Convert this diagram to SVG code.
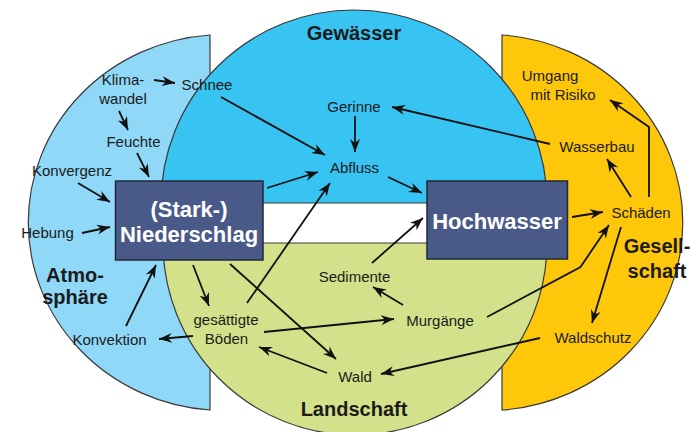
<svg xmlns="http://www.w3.org/2000/svg" width="699" height="432" viewBox="0 0 699 432">
<style>
.t{font-family:"Liberation Sans",Arial,sans-serif;font-size:15px;fill:#1b1b1b;text-anchor:middle}
.h{font-family:"Liberation Sans",Arial,sans-serif;font-size:20px;font-weight:bold;fill:#1b1b1b;text-anchor:middle}
.b{font-family:"Liberation Sans",Arial,sans-serif;font-size:22px;font-weight:bold;fill:#ffffff;text-anchor:middle}
.box{fill:#4a5a88;stroke:#1e2838;stroke-width:1.5}
.area{stroke:#3a3a3a;stroke-width:1.2}
#connectors line,#connectors polyline{stroke:#111;stroke-width:1.8;fill:none;marker-end:url(#ah)}
</style>
<defs>
<marker id="ah" markerWidth="15" markerHeight="11" viewBox="-14 -5.5 15 11" refX="0" refY="0" orient="auto" markerUnits="userSpaceOnUse">
<path d="M0,0 L-13,-5 L-9,0 L-13,5 Z" fill="#111"/>
</marker>
</defs>
<rect width="699" height="432" fill="#ffffff"/>
<g id="atmosphaere">
<path class="area" d="M210,35 A196,188 0 0 0 210,410 Z" fill="#8fd8f7"/>
</g>
<g id="gesellschaft">
<path class="area" d="M502,35 A195,188 0 0 1 502,410 Z" fill="#ffc709"/>
</g>
<g id="gewaesser">
<path class="area" d="M161,203 A193,193 0 0 1 547,203 Z" fill="#38c4f2"/>
</g>
<g id="landschaft">
<path class="area" d="M163,243 A192,192 0 0 0 547,243 Z" fill="#d3e18a"/>
</g>
<g id="connectors">
<line x1="154" y1="80" x2="175" y2="83"/>
<line x1="119" y1="111" x2="128" y2="130"/>
<line x1="137" y1="153" x2="149" y2="177"/>
<line x1="78" y1="183" x2="110" y2="202"/>
<line x1="82" y1="233" x2="110" y2="227"/>
<line x1="126" y1="326" x2="156" y2="265"/>
<line x1="193" y1="336" x2="159" y2="339"/>
<line x1="193" y1="265" x2="209" y2="306"/>
<line x1="247" y1="303" x2="330" y2="183"/>
<line x1="230" y1="264" x2="336" y2="359"/>
<line x1="327" y1="373" x2="259" y2="347"/>
<line x1="264" y1="332" x2="394" y2="319"/>
<line x1="403" y1="305" x2="373" y2="287"/>
<line x1="372" y1="263" x2="423" y2="218"/>
<polyline points="487,317 580.5,267 609,225"/>
<line x1="621" y1="227" x2="592" y2="323"/>
<line x1="540" y1="338" x2="381" y2="374"/>
<line x1="572" y1="217" x2="603" y2="212"/>
<line x1="631" y1="197" x2="607" y2="159"/>
<polyline points="649,197 649,127 610,100"/>
<line x1="550" y1="144" x2="392" y2="107"/>
<line x1="355" y1="116" x2="355" y2="152"/>
<line x1="221" y1="97" x2="325" y2="155"/>
<line x1="267" y1="188" x2="318" y2="172"/>
<line x1="388" y1="177" x2="422" y2="193"/>
</g>
<g id="niederschlag">
<rect class="box" x="115.5" y="181" width="147.5" height="79"/>
<text class="b" x="189" y="217">(Stark-)</text>
<text class="b" x="189" y="242">Niederschlag</text>
</g>
<g id="hochwasser">
<rect class="box" x="427" y="181" width="140.5" height="78"/>
<text class="b" x="497" y="229">Hochwasser</text>
</g>
<g id="labels">
<text class="h" x="354" y="40">Gewässer</text>
<text class="h" x="75" y="282">Atmo-</text>
<text class="h" x="75" y="304">sphäre</text>
<text class="h" x="354" y="416">Landschaft</text>
<text class="h" x="657" y="253">Gesell-</text>
<text class="h" x="657" y="278">schaft</text>
</g>
<g id="klimawandel"><text class="t" x="123" y="85">Klima-</text><text class="t" x="123" y="104">wandel</text></g>
<g id="schnee"><text class="t" x="207" y="90">Schnee</text></g>
<g id="feuchte"><text class="t" x="133.5" y="147">Feuchte</text></g>
<g id="konvergenz"><text class="t" x="72" y="176">Konvergenz</text></g>
<g id="hebung"><text class="t" x="47.5" y="238">Hebung</text></g>
<g id="konvektion"><text class="t" x="109.5" y="345">Konvektion</text></g>
<g id="boeden"><text class="t" x="226" y="325">gesättigte</text><text class="t" x="226.5" y="344">Böden</text></g>
<g id="wald"><text class="t" x="355" y="382">Wald</text></g>
<g id="sedimente"><text class="t" x="354.5" y="282">Sedimente</text></g>
<g id="murgaenge"><text class="t" x="440" y="326">Murgänge</text></g>
<g id="gerinne"><text class="t" x="354" y="112">Gerinne</text></g>
<g id="abfluss"><text class="t" x="354.5" y="173">Abfluss</text></g>
<g id="umgang"><text class="t" x="550" y="81">Umgang</text><text class="t" x="563" y="100">mit Risiko</text></g>
<g id="wasserbau"><text class="t" x="597" y="152">Wasserbau</text></g>
<g id="schaeden"><text class="t" x="641" y="218">Schäden</text></g>
<g id="waldschutz"><text class="t" x="593" y="343">Waldschutz</text></g>
</svg>
